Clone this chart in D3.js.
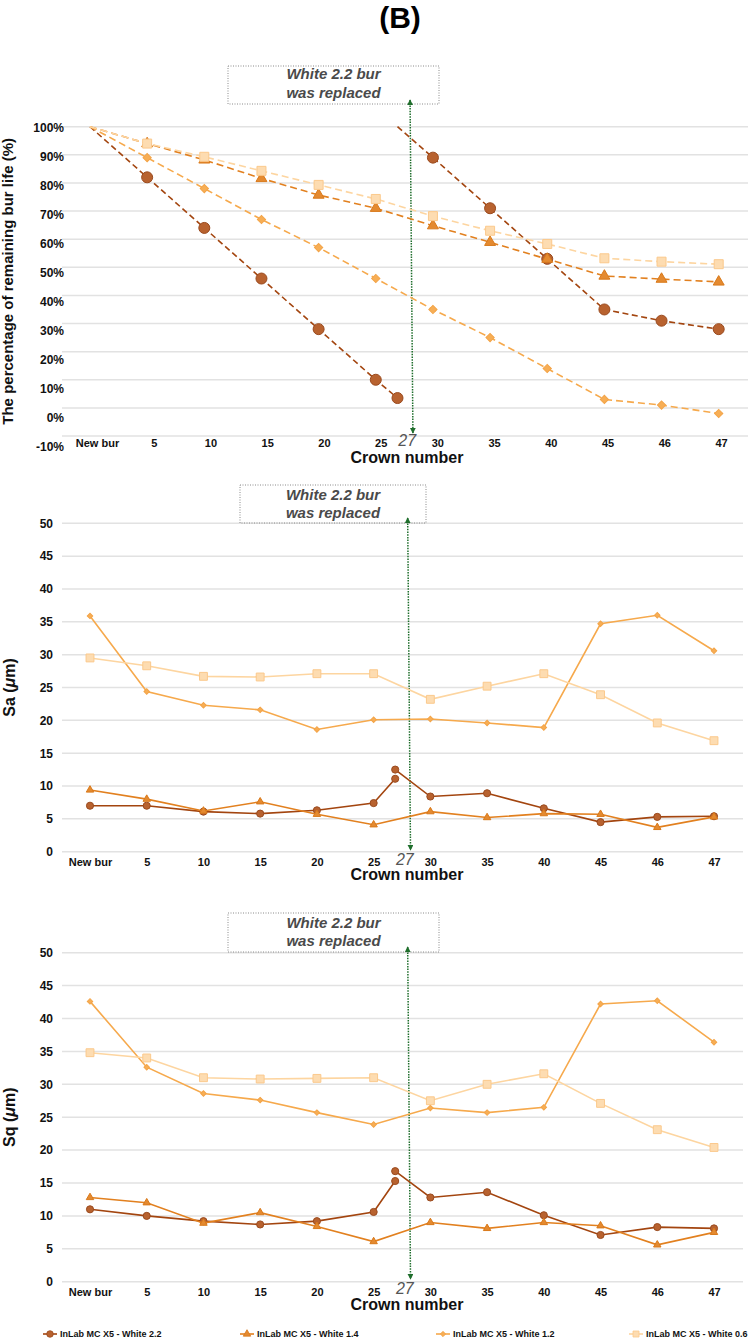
<!DOCTYPE html>
<html lang="en">
<head>
<meta charset="utf-8">
<title>Bur life and surface roughness</title>
<script src="https://d3js.org/d3.v7.min.js"></script>
<style>
  body { margin: 0; background: #fff; }
  svg { display: block; font-family: "Liberation Sans", Arial, Helvetica, sans-serif; }
  .ylab text { font-size: 12px; font-weight: bold; fill: #111; }
  .xlab text { font-size: 11px; font-weight: bold; fill: #111; }
  .axis-title { font-size: 16px; font-weight: bold; fill: #111; }
  .note { font-size: 15px; font-weight: bold; font-style: italic; fill: #4a4a4a; }
  .legend text { font-size: 9px; font-weight: bold; fill: #111; }
</style>
</head>
<body>
<div id="chart"></div>
<script>

// x axis categories (crown number)
var crowns = ["New bur", "5", "10", "15", "20", "25", "30", "35", "40", "45", "46", "47"];
// crown 27, where the White 2.2 bur was replaced, sits between "25" and "30"
var replacedLabel = "27";
var replacedPos = 5.38;
var arrowPos = [5.6, 5.65];

var seriesNames = ["InLab MC X5 - White 2.2", "InLab MC X5 - White 1.4",
                   "InLab MC X5 - White 1.2", "InLab MC X5 - White 0.6"];

// (1) remaining bur life (%); White 2.2 values from "30" on belong to the new bur
var life22 = [100, 82, 64, 46, 28, 10, 89, 71, 53, 35, 31, 28];
var life22At27 = [3.5, 100];   // old bur worn out, new bur fitted
var life14 = [100, 94, 88.2, 81.6, 75.7, 71, 64.8, 58.9, 52.9, 46.9, 45.8, 44.8];
var life12 = [100, 89, 78, 67, 57, 46, 35, 25, 14, 3, 1, -2];
var life06 = [100, 94, 89.3, 84.3, 79.3, 74.3, 68.2, 63, 58.3, 53.2, 52, 51.1];
var lifeTicks = [-10, 0, 10, 20, 30, 40, 50, 60, 70, 80, 90, 100];

// (2) Sa (um)
var sa22 = [7.0, 7.0, 6.1, 5.8, 6.3, 7.4, 8.4, 8.9, 6.6, 4.5, 5.3, 5.4];
var sa22At27 = [11.1, 12.5];
var sa14 = [9.4, 8.0, 6.2, 7.6, 5.7, 4.1, 6.1, 5.2, 5.8, 5.7, 3.7, 5.3];
var sa12 = [35.9, 24.4, 22.3, 21.6, 18.6, 20.1, 20.2, 19.6, 18.9, 34.7, 36.0, 30.6];
var sa06 = [29.5, 28.3, 26.7, 26.6, 27.1, 27.1, 23.2, 25.2, 27.1, 23.9, 19.6, 16.9];

// (3) Sq (um)
var sq22 = [11.0, 10.0, 9.2, 8.7, 9.2, 10.6, 12.8, 13.6, 10.1, 7.1, 8.3, 8.1];
var sq22At27 = [15.3, 16.8];
var sq14 = [12.8, 12.0, 8.9, 10.5, 8.4, 6.1, 9.0, 8.1, 9.0, 8.5, 5.6, 7.5];
var sq12 = [42.6, 32.6, 28.6, 27.6, 25.7, 23.9, 26.4, 25.7, 26.5, 42.2, 42.7, 36.4];
var sq06 = [34.8, 34.0, 31.0, 30.8, 30.9, 31.0, 27.5, 30.0, 31.6, 27.1, 23.1, 20.4];
var roughTicks = [0, 5, 10, 15, 20, 25, 30, 35, 40, 45, 50];

// styling per series
var lineColors   = ["#a3450f", "#e2801f", "#f6a94c", "#fdd5a0"];
var markerFills  = ["#b8622f", "#e48a30", "#f7ae55", "#fddcb1"];
var markerEdges  = ["#9a4a1e", "#d9791a", "#f3a448", "#fbc98c"];
var markerTypes  = [d3.symbolCircle, d3.symbolTriangle, d3.symbolSquare, d3.symbolSquare];
var markerRotate = [0, 0, 45, 0];

var svg = d3.select("#chart").append("svg")
    .attr("width", 752)
    .attr("height", 1340);

// arrow heads for the replacement marker
svg.append("defs").append("marker")
    .attr("id", "head")
    .attr("viewBox", "0 0 8 8")
    .attr("refX", 7).attr("refY", 4)
    .attr("markerWidth", 6).attr("markerHeight", 6)
    .attr("markerUnits", "userSpaceOnUse")
    .attr("orient", "auto-start-reverse")
  .append("path")
    .attr("d", "M0,0 L8,4 L0,8 Z")
    .attr("fill", "#1f6e2c");

// title
svg.append("text")
    .attr("x", 400).attr("y", 28)
    .attr("text-anchor", "middle")
    .style("font-size", "30px").style("font-weight", "bold")
    .text("(B)");

// turn one value row into line segments (White 2.2 gets split at crown 27)
function plainSeries(vals) {
  return [vals.map(function(v, i) { return {pos: i, v: v, start: i === 0}; })];
}
function replacedSeries(vals, at27) {
  var a = [], b = [];
  vals.forEach(function(v, i) {
    if (i <= 5) a.push({pos: i, v: v, start: i === 0});
    else b.push({pos: i, v: v});
  });
  a.push({pos: replacedPos, v: at27[0]});
  b.unshift({pos: replacedPos, v: at27[1], start: true});
  return [a, b];
}

var panels = [
  {
    series: [replacedSeries(life22, life22At27), plainSeries(life14), plainSeries(life12), plainSeries(life06)],
    ticks: lifeTicks, fmt: function(d) { return d + "%"; },
    yDomain: [-10, 100], yRange: [436, 126.7], yLabelRange: [446.7, 127.7], yLabelX: 64,
    xRange: [90, 718.7], xLabelRange: [97, 721], gridX: [62, 748],
    xLabelBase: 447, titleBase: 463, label27Base: 446,
    yTitle: ["The percentage of remaining bur life (%)"], yTitleX: 8, yTitleSize: 15,
    dashed: true, hideStart: true,
    sizes: [95, 52, 34, 81],
    box: {x: 228, y: 66, w: 211, h: 38, l1: 79, l2: 97.5},
    arrowTop: 100, arrowBottom: 433
  },
  {
    series: [replacedSeries(sa22, sa22At27), plainSeries(sa14), plainSeries(sa12), plainSeries(sa06)],
    ticks: roughTicks, fmt: function(d) { return d; },
    yDomain: [0, 50], yRange: [851.7, 523.3], yLabelX: 53,
    xRange: [90, 714], gridX: [62, 743],
    xLabelBase: 866, titleBase: 880, label27Base: 865,
    yTitle: ["Sa (", "\u03bc", "m)"], yTitleX: 9, yTitleSize: 16,
    dashed: false, hideStart: false,
    sizes: [40, 24, 15, 62],
    box: {x: 240, y: 485, w: 186, h: 38, l1: 500, l2: 517.5},
    arrowTop: 518, arrowBottom: 850
  },
  {
    series: [replacedSeries(sq22, sq22At27), plainSeries(sq14), plainSeries(sq12), plainSeries(sq06)],
    ticks: roughTicks, fmt: function(d) { return d; },
    yDomain: [0, 50], yRange: [1281.7, 952.7], yLabelX: 53,
    xRange: [90, 714], gridX: [62, 743],
    xLabelBase: 1296, titleBase: 1310, label27Base: 1294,
    yTitle: ["Sq (", "\u03bc", "m)"], yTitleX: 9, yTitleSize: 16,
    dashed: false, hideStart: false,
    sizes: [40, 24, 15, 62],
    box: {x: 228, y: 913, w: 211, h: 39, l1: 928, l2: 946},
    arrowTop: 947, arrowBottom: 1279
  }
];

panels.forEach(drawPanel);

function drawPanel(p) {
  var n = crowns.length - 1;
  var x = d3.scaleLinear().domain([0, n]).range(p.xRange);
  var xLab = d3.scaleLinear().domain([0, n]).range(p.xLabelRange || p.xRange);
  var y = d3.scaleLinear().domain(p.yDomain).range(p.yRange);
  var yLab = d3.scaleLinear().domain(p.yDomain).range(p.yLabelRange || p.yRange);
  var g = svg.append("g");

  // horizontal grid
  g.append("g").selectAll("line")
    .data(p.ticks)
    .join("line")
      .attr("x1", p.gridX[0]).attr("x2", p.gridX[1])
      .attr("y1", function(d) { return y(d); })
      .attr("y2", function(d) { return y(d); })
      .attr("stroke", "#e2e2e2")
      .attr("stroke-width", 1.5);

  // y tick labels
  g.append("g")
      .attr("class", "ylab")
      .attr("transform", "translate(" + p.yLabelX + ",0)")
      .call(d3.axisLeft(yLab).tickValues(p.ticks).tickFormat(p.fmt).tickSize(0).tickPadding(0))
      .call(function(a) { a.select(".domain").remove(); a.attr("font-size", null).attr("font-family", null); });

  // x tick labels
  g.append("g")
      .attr("class", "xlab")
      .attr("transform", "translate(0," + (p.xLabelBase - 8) + ")")
      .call(d3.axisBottom(xLab).tickValues(d3.range(crowns.length))
              .tickFormat(function(i) { return crowns[i]; }).tickSize(0).tickPadding(0))
      .call(function(a) { a.select(".domain").remove(); a.attr("font-size", null).attr("font-family", null); });

  g.append("text")
      .attr("class", "axis-title")
      .attr("x", 407).attr("y", p.titleBase)
      .attr("text-anchor", "middle")
      .text("Crown number");

  // y title
  var yt = g.append("text")
      .attr("class", "axis-title")
      .attr("transform", "translate(" + p.yTitleX + "," + ((p.yRange[0] + p.yRange[1]) / 2) + ") rotate(-90)")
      .attr("text-anchor", "middle")
      .attr("dy", "0.35em")
      .style("font-size", p.yTitleSize + "px");
  p.yTitle.forEach(function(s, i) {
    yt.append("tspan").style("font-style", i === 1 ? "italic" : "normal").text(s);
  });

  // "bur was replaced" note with arrow down to crown 27
  var b = p.box;
  g.append("rect")
      .attr("x", b.x).attr("y", b.y).attr("width", b.w).attr("height", b.h)
      .attr("fill", "none").attr("stroke", "#8a8a8a")
      .attr("stroke-width", 1).attr("stroke-dasharray", "1,1.5");
  g.append("text").attr("class", "note").attr("x", b.x + b.w / 2).attr("y", b.l1)
      .attr("text-anchor", "middle").text("White 2.2 bur");
  g.append("text").attr("class", "note").attr("x", b.x + b.w / 2).attr("y", b.l2)
      .attr("text-anchor", "middle").text("was replaced");

  g.append("line")
      .attr("x1", x(arrowPos[0])).attr("y1", p.arrowTop)
      .attr("x2", x(arrowPos[1])).attr("y2", p.arrowBottom)
      .attr("stroke", "#1f6e2c").attr("stroke-width", 1.5)
      .attr("stroke-dasharray", "1.5,1.2")
      .attr("marker-start", "url(#head)").attr("marker-end", "url(#head)");

  g.append("text")
      .attr("x", x(5.55)).attr("y", p.label27Base)
      .attr("text-anchor", "middle")
      .style("font-size", "16px").style("font-style", "italic").style("fill", "#555")
      .text(replacedLabel);

  // lines and markers
  var line = d3.line().x(function(d) { return x(d.pos); }).y(function(d) { return y(d.v); });

  p.series.forEach(function(segs, si) {
    var sg = g.append("g");
    sg.selectAll("path.line")
      .data(segs)
      .join("path")
        .attr("class", "line")
        .attr("d", line)
        .attr("fill", "none")
        .attr("stroke", lineColors[si])
        .attr("stroke-width", 1.6)
        .attr("stroke-dasharray", p.dashed ? (si === 0 ? "6,3.5" : "7,4") : null);

    var pts = [].concat.apply([], segs).filter(function(d) { return !(p.hideStart && d.start); });
    sg.selectAll("path.mk")
      .data(pts)
      .join("path")
        .attr("class", "mk")
        .attr("d", d3.symbol().type(markerTypes[si]).size(p.sizes[si]))
        .attr("transform", function(d) { return "translate(" + x(d.pos) + "," + y(d.v) + ") rotate(" + markerRotate[si] + ")"; })
        .attr("fill", markerFills[si])
        .attr("stroke", markerEdges[si])
        .attr("stroke-width", 1);
  });
}

// legend
var legendX = [50, 247, 443, 636];
var lg = svg.append("g").attr("class", "legend");
seriesNames.forEach(function(name, i) {
  var it = lg.append("g").attr("transform", "translate(" + legendX[i] + ",1334)");
  it.append("line").attr("x1", -7).attr("x2", 7)
    .attr("stroke", lineColors[i]).attr("stroke-width", 1.6);
  it.append("path")
    .attr("d", d3.symbol().type(markerTypes[i]).size([34, 24, 14, 36][i]))
    .attr("transform", "rotate(" + markerRotate[i] + ")")
    .attr("fill", markerFills[i]).attr("stroke", markerEdges[i]).attr("stroke-width", 0.8);
  it.append("text").attr("x", 10).attr("y", 3.3).text(name);
});

</script>
</body>
</html>
